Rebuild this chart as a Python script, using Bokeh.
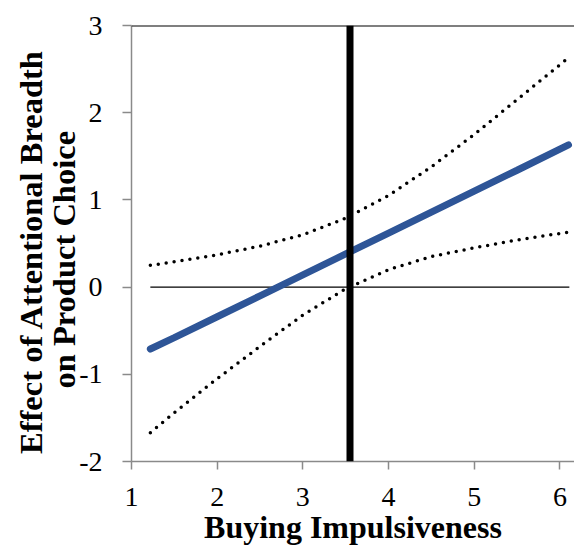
from bokeh.plotting import figure
from bokeh.models import Span, Range1d, FixedTicker
from bokeh.embed import file_html
from bokeh.resources import INLINE

# Data
x_vals = [1.22, 1.5, 2.0, 2.5, 3.0, 3.5, 4.0, 4.5, 5.0, 5.5, 6.1]
effect = [-0.71, -0.58, -0.34, -0.10, 0.14, 0.38, 0.62, 0.86, 1.10, 1.34, 1.63]
upper = [0.25, 0.29, 0.37, 0.47, 0.60, 0.79, 1.05, 1.38, 1.75, 2.15, 2.63]
lower = [-1.67, -1.44, -1.05, -0.68, -0.32, -0.02, 0.20, 0.35, 0.45, 0.54, 0.63]
zero_x = [1.22, 6.11]
zero_y = [0, 0]
jn_point = 3.55
x_ticks = [1, 2, 3, 4, 5, 6]
y_ticks = [-2, -1, 0, 1, 2, 3]
y_tick_labels = {-2: "-2", -1: "-1", 0: "0", 1: "1", 2: "2", 3: "3"}

NB = "\u00a0"

p = figure(width=574, height=548, output_backend="svg", toolbar_location=None,
           x_range=Range1d(1, 6.17), y_range=Range1d(-2, 3),
           min_border_left=131, min_border_right=0, min_border_top=25,
           min_border_bottom=87)
p.outline_line_color = None
p.background_fill_color = "white"
p.border_fill_color = "white"
p.xgrid.visible = False
p.ygrid.visible = False

# reference lines
p.line(zero_x, zero_y, line_color="black", line_width=1.2)
p.add_layout(Span(location=3, dimension="width", line_color="black", line_width=2))
p.add_layout(Span(location=jn_point, dimension="height", line_color="black", line_width=7))

# confidence bands
p.line(x_vals, upper, line_color="black", line_width=3.5, line_dash="0 8", line_cap="round")
p.line(x_vals, lower, line_color="black", line_width=3.5, line_dash="0 8", line_cap="round")

# effect line
p.line(x_vals, effect, line_color="#2E5597", line_width=7, line_cap="round")

font = "Liberation Serif"
for ax in (p.xaxis[0], p.yaxis[0]):
    ax.axis_line_color = "#8A8A8A"
    ax.axis_line_width = 1.5
    ax.major_tick_line_color = "#8A8A8A"
    ax.major_tick_line_width = 1.5
    ax.major_tick_in = 0
    ax.minor_tick_line_color = None
    ax.major_label_text_font = font
    ax.major_label_text_font_size = "28px"
    ax.major_label_text_color = "black"
    ax.axis_label_text_font = font
    ax.axis_label_text_font_style = "bold"
    ax.axis_label_text_color = "black"

p.xaxis.axis_label_text_font_size = "32px"
p.yaxis.axis_label_text_font_size = "32.5px"
p.xaxis.ticker = FixedTicker(ticks=x_ticks)
p.yaxis.ticker = FixedTicker(ticks=y_ticks)
p.yaxis.major_label_overrides = y_tick_labels
p.xaxis.major_tick_out = 8
p.yaxis.major_tick_out = 9
p.xaxis.major_label_standoff = 18
p.yaxis.major_label_standoff = 20
p.xaxis.axis_label = "Buying Impulsiveness"
p.xaxis.axis_label_standoff = 0
p.yaxis.axis_label = ("Effect of Attentional Breadth" + NB * 2 + "\n"
                      + "on Product Choice" + NB * 4)
p.yaxis.axis_label_text_line_height = 0.93
p.yaxis.axis_label_standoff = -6

open("out.html", "w").write(file_html(p, INLINE))
